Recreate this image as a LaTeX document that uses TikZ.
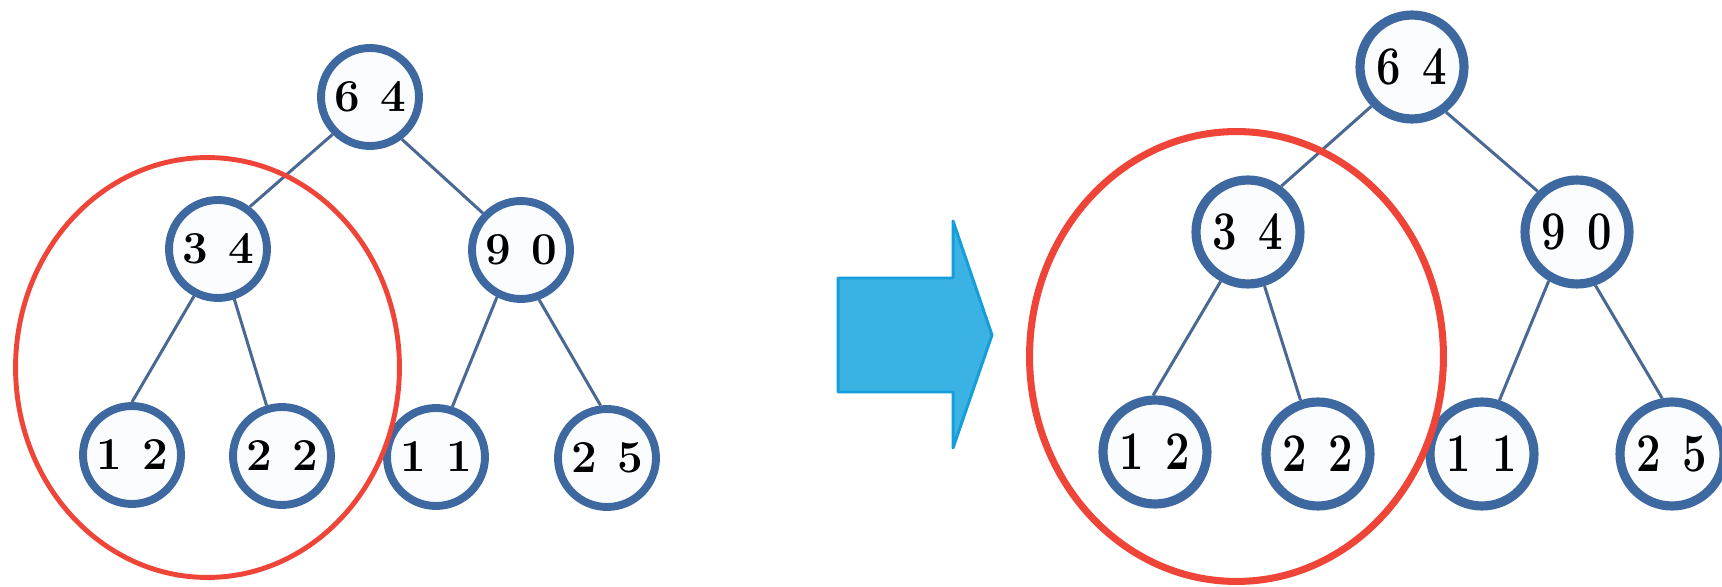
\documentclass[tikz,border=0pt]{standalone}
\usepackage{fontspec}
\usepackage{graphicx}
\usepackage{tikz}
\definecolor{ringblue}{RGB}{62,104,160}
\definecolor{edgeblue}{RGB}{74,104,148}
\definecolor{nodefill}{RGB}{251,252,254}
\definecolor{markred}{RGB}{239,68,56}
\definecolor{arrowfill}{RGB}{59,178,228}
\definecolor{arrowline}{RGB}{22,158,218}
\tikzset{
  keynode/.style={circle,draw=ringblue,fill=nodefill,line width=4.5pt,minimum size=1.96cm,inner sep=0pt,
    font={\fontsize{26}{26}\selectfont\bfseries\spaceskip=.45em\relax}},
  bigkey/.style={keynode,line width=5.2pt,minimum size=2.08cm,
    font={\fontsize{31}{31}\selectfont\bfseries\spaceskip=.5em\relax}},
  branch/.style={draw=edgeblue,line width=1.7pt},
  heapring/.style={draw=markred,line width=2.8pt},
}
\newcommand{\tallkey}[1]{\scalebox{0.8}[1]{#1}}

\begin{document}
\begin{tikzpicture}[x=0.02cm,y=-0.02cm]
\useasboundingbox (0,0) rectangle (1722,587);
% left tree
\node[keynode] (l64) at (370,97) {6 4};
\node[keynode] (l34) at (218,249) {3 4};
\node[keynode] (l90) at (521,250) {9 0};
\node[keynode] (l12) at (132,455) {1 2};
\node[keynode] (l22) at (282,456) {2 2};
\node[keynode] (l11) at (436,457) {1 1};
\node[keynode] (l25) at (607,458) {2 5};
\draw[branch] (l64.225)--(l34.53);
\draw[branch] (l64.307)--(l90.136);
\draw[branch] (l34.243)--(l12.90);
\draw[branch] (l34.288)--(l22.107);
\draw[branch] (l90.243)--(l11.72);
\draw[branch] (l90.290)--(l25.97);
\draw[heapring] (207.5,367.5) ellipse [x radius=3.84cm,y radius=4.2cm];
% arrow
\draw[arrowline,fill=arrowfill,line width=1.7pt,line join=round]
  (838,278)--(953,278)--(953,221)--(992,335)--(953,448)--(953,392)--(838,392)--cycle;
% right tree
\node[bigkey] (r64) at (1412,67) {\tallkey{6 4}};
\node[bigkey] (r34) at (1248,232) {\tallkey{3 4}};
\node[bigkey] (r90) at (1577,232) {\tallkey{9 0}};
\node[bigkey] (r12) at (1155,452) {\tallkey{1 2}};
\node[bigkey] (r22) at (1318,454) {\tallkey{2 2}};
\node[bigkey] (r11) at (1482,454) {\tallkey{1 1}};
\node[bigkey] (r25) at (1672,454) {\tallkey{2 5}};
\draw[branch] (r64.224)--(r34.54);
\draw[branch] (r64.307)--(r90.134);
\draw[branch] (r34.241)--(r12.92);
\draw[branch] (r34.287)--(r22.108);
\draw[branch] (r90.240)--(r11.72);
\draw[branch] (r90.289)--(r25.100);
\draw[heapring,line width=4pt] (1236.5,356.5) ellipse [x radius=4.14cm,y radius=4.5cm];
\end{tikzpicture}
\end{document}
